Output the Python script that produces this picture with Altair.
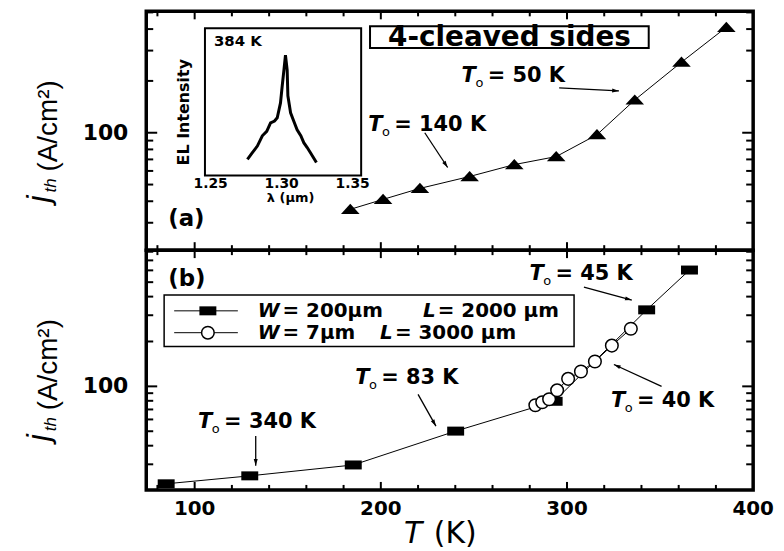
import math
import altair as alt
import pandas as pd

# ---------------- data ----------------
# (a) 4-cleaved sides, triangles
T_A = [183.6, 201.2, 221.0, 247.7, 271.7, 294.2, 316.1, 336.4, 361.5, 385.6]
J_A = [35.9, 41.0, 47.5, 55.7, 65.3, 72.7, 97.4, 155.0, 257.0, 410.0]

# inset: EL spectrum at 384 K
LAM = [1.2759, 1.2790, 1.2829, 1.2864, 1.2895, 1.2922, 1.2950, 1.2969, 1.2992,
       1.3004, 1.3016, 1.3027, 1.3039, 1.3044, 1.3063, 1.3085, 1.3109, 1.3135,
       1.3156, 1.3180, 1.3203, 1.3245]
EL = [0.110, 0.150, 0.200, 0.270, 0.300, 0.358, 0.370, 0.392, 0.493, 0.608,
      0.716, 0.818, 0.716, 0.541, 0.426, 0.370, 0.311, 0.270, 0.223, 0.190,
      0.155, 0.088]

# (b) W = 200 um, L = 2000 um (squares)
T_W200 = [84.7, 129.6, 185.2, 240.2, 293.1, 342.8, 365.8]
J_W200 = [22.2, 25.1, 29.7, 50.1, 79.4, 326.0, 603.0]
# (b) W = 7 um, L = 3000 um (open circles)
T_W7 = [283.0, 286.7, 290.4, 294.7, 300.6, 307.5, 315.0, 324.1, 334.3]
J_W7 = [74.7, 78.2, 81.9, 94.1, 112.3, 125.9, 146.8, 187.7, 243.6]

X_LABELS = [100, 200, 300, 400]
X_MAJOR = [100, 200, 300]
X_MINOR = [80, 120, 140, 160, 180, 220, 240, 260, 280, 320, 340, 360, 380]
YA_MINOR = [30, 40, 50, 60, 70, 80, 90, 200, 300, 400, 500]
YB_MINOR = [30, 40, 50, 60, 70, 80, 90, 200, 300, 400, 500, 600, 700, 800]
Y_MAJOR = [100]
INSET_LABELS = [1.25, 1.30, 1.35]

# ---------------- layout ----------------
W, HA, HB = 610, 240, 241
LEFT, RIGHT, TOP, BOTTOM = 145, 29, 8, 62
X_DOM = [74, 400]
YA_DOM = [20.8, 507]
YB_DOM = [20.2, 820]
IN_X_DOM = [1.246, 1.356]
IN_X_RANGE = [59, 216]
IN_Y_DOM = [0, 1]
IN_Y_RANGE = [165, 17]

FB = "DejaVu Sans"
FT = "Liberation Sans"

XS = alt.Scale(domain=X_DOM, nice=False, zero=False)
YSA = alt.Scale(type="log", domain=YA_DOM, nice=False)
YSB = alt.Scale(type="log", domain=YB_DOM, nice=False)
IXS = alt.Scale(domain=IN_X_DOM, range=IN_X_RANGE, nice=False, zero=False)
IYS = alt.Scale(domain=IN_Y_DOM, range=IN_Y_RANGE, nice=False, zero=False)

SQ = "M-1,-0.53L1,-0.53L1,0.53L-1,0.53Z"
TRI = "M0,-0.6L1,0.5L-1,0.5Z"
HEAD = "M0,0L0.5,1.7L-0.5,1.7Z"

DUMMY = pd.DataFrame({"a": [0]})


def px_x(t):
    return (t - X_DOM[0]) / (X_DOM[1] - X_DOM[0]) * W


def px_y(j, dom, h):
    l0, l1 = math.log10(dom[0]), math.log10(dom[1])
    return h * (1 - (math.log10(j) - l0) / (l1 - l0))


def enc_xy(ysc):
    return dict(x=alt.X("T:Q", scale=XS, axis=None),
                y=alt.Y("j:Q", scale=ysc, axis=None))


def ticks(h, ysc, ymin):
    out = []
    for vals, ln in ((X_MAJOR, 8), (X_MINOR, 5)):
        df = pd.DataFrame({"T": vals})
        base = alt.Chart(df).mark_rule(color="black", strokeWidth=2)
        out.append(base.encode(x=alt.X("T:Q", scale=XS, axis=None),
                               y=alt.value(0), y2=alt.value(ln)))
        out.append(base.encode(x=alt.X("T:Q", scale=XS, axis=None),
                               y=alt.value(h), y2=alt.value(h - ln)))
    for vals, ln in ((Y_MAJOR, 11), (ymin, 7)):
        df = pd.DataFrame({"j": vals})
        base = alt.Chart(df).mark_rule(color="black", strokeWidth=2)
        out.append(base.encode(y=alt.Y("j:Q", scale=ysc, axis=None),
                               x=alt.value(0), x2=alt.value(ln)))
        out.append(base.encode(y=alt.Y("j:Q", scale=ysc, axis=None),
                               x=alt.value(W), x2=alt.value(W - ln)))
    return out


def ylabels(ysc):
    df = pd.DataFrame({"j": Y_MAJOR, "lab": [str(v) for v in Y_MAJOR]})
    return alt.Chart(df).mark_text(font=FB, fontWeight="bold", fontSize=22, align="right",
                                   baseline="middle", color="black").encode(
        x=alt.value(-18), y=alt.Y("j:Q", scale=ysc, axis=None), text="lab:N")


def dtext(text, t, j, ysc, size, **kw):
    df = pd.DataFrame({"T": [t], "j": [j]})
    return alt.Chart(df).mark_text(text=text, fontSize=size, color="black", **kw).encode(**enc_xy(ysc))


def t0_label(t, j, rest, ysc, s=21):
    return [
        dtext("T", t, j, ysc, s, font=FB, fontWeight="bold", fontStyle="italic",
              align="left", baseline="middle"),
        dtext("o", t, j, ysc, round(s * 0.63), font=FB, align="left",
              baseline="middle", dx=0.66 * s, dy=0.33 * s),
        dtext(rest, t, j, ysc, s, font=FB, fontWeight="bold", align="left",
              baseline="middle", dx=1.25 * s),
    ]


def arrow(t0, j0, t1, j1, ysc, dom, h):
    dxp = px_x(t1) - px_x(t0)
    dyp = px_y(j1, dom, h) - px_y(j0, dom, h)
    ang = math.degrees(math.atan2(dxp, -dyp)) % 360
    df = pd.DataFrame({"T": [t0], "j": [j0], "T2": [t1], "j2": [j1]})
    line = alt.Chart(df).mark_rule(color="black", strokeWidth=1.3).encode(
        x=alt.X("T:Q", scale=XS, axis=None), x2="T2:Q",
        y=alt.Y("j:Q", scale=ysc, axis=None), y2="j2:Q")
    head = alt.Chart(df).mark_point(shape=HEAD, filled=True, size=64, angle=ang,
                                    color="black", opacity=1, strokeWidth=0).encode(
        x=alt.X("T2:Q", scale=XS, axis=None), y=alt.Y("j2:Q", scale=ysc, axis=None))
    return [line, head]


def vtext(text, x, y, size, **kw):
    return alt.Chart(DUMMY).mark_text(text=text, fontSize=size, color="black", **kw).encode(
        x=alt.value(x), y=alt.value(y))


def anchor(y):
    # invisible rule fixing the page extent (left / right / top / bottom)
    return alt.Chart(DUMMY).mark_rule(opacity=0, strokeWidth=1).encode(
        x=alt.value(-LEFT + 0.5), x2=alt.value(W + RIGHT - 0.5), y=alt.value(y))


def ytitle():
    kw = dict(angle=270, align="left", baseline="alphabetic", font=FT)
    return [
        vtext("j", -98, 192, 32, fontStyle="italic", **kw),
        vtext("th", -91, 182, 17, fontStyle="italic", **kw),
        vtext("(A/cm²)", -90, 161, 28, **kw),
    ]


# ---------------- panel (a) ----------------
df_a = pd.DataFrame({"T": T_A, "j": J_A})
line_a = alt.Chart(df_a).mark_line(color="black", strokeWidth=1).encode(**enc_xy(YSA))
pts_a = alt.Chart(df_a).mark_point(shape=TRI, filled=True, size=350, color="black",
                                   opacity=1, strokeWidth=0).encode(**enc_xy(YSA))

box_df = pd.DataFrame({"T": [194.2], "T2": [343.9], "j": [310.1], "j2": [415.8]})
box_a = alt.Chart(box_df).mark_rect(fill="white", stroke="black", strokeWidth=2).encode(
    x=alt.X("T:Q", scale=XS, axis=None), x2="T2:Q",
    y=alt.Y("j:Q", scale=YSA, axis=None), y2="j2:Q")
box_txt = dtext("4-cleaved sides", 269.1, 357, YSA, 28, font=FB, fontWeight="bold",
                align="center", baseline="middle")

layers_a = [anchor(-TOP)] + ticks(HA, YSA, YA_MINOR) + [ylabels(YSA), line_a, pts_a, box_a, box_txt]
layers_a += t0_label(243.4, 213.6, "= 50 K", YSA)
layers_a += t0_label(193.2, 111.2, "= 140 K", YSA)
layers_a += arrow(295.8, 182.0, 327.9, 174.9, YSA, YA_DOM, HA)
layers_a += arrow(223.6, 100.0, 235.9, 62.8, YSA, YA_DOM, HA)
layers_a.append(dtext("(a)", 85.8, 31.4, YSA, 23, font=FB, fontWeight="bold",
                      align="left", baseline="middle"))
layers_a += ytitle()
main_a = alt.layer(*layers_a)

# inset
frame_df = pd.DataFrame({"l": [IN_X_DOM[0]], "l2": [IN_X_DOM[1]],
                         "e": [IN_Y_DOM[0]], "e2": [IN_Y_DOM[1]]})
inset_frame = alt.Chart(frame_df).mark_rect(fill="white", stroke="black", strokeWidth=2).encode(
    x=alt.X("l:Q", scale=IXS, axis=None), x2="l2:Q",
    y=alt.Y("e:Q", scale=IYS, axis=None), y2="e2:Q")
spec_df = pd.DataFrame({"lam": LAM, "el": EL})
inset_line = alt.Chart(spec_df).mark_line(color="black", strokeWidth=3).encode(
    x=alt.X("lam:Q", scale=IXS, axis=None), y=alt.Y("el:Q", scale=IYS, axis=None))
ilab_df = pd.DataFrame({"lam": INSET_LABELS, "lab": ["%.2f" % v for v in INSET_LABELS]})
inset_xlabels = alt.Chart(ilab_df).mark_text(font=FB, fontWeight="bold", fontSize=14,
                                             align="center", baseline="top", color="black").encode(
    x=alt.X("lam:Q", scale=IXS, axis=None), y=alt.value(IN_Y_RANGE[0] + 2), text="lab:N")
ititle_df = pd.DataFrame({"lam": [1.3063]})
inset_xtitle = alt.Chart(ititle_df).mark_text(text="λ (μm)", font=FB, fontWeight="bold",
                                              fontSize=13, align="center", baseline="top",
                                              color="black").encode(
    x=alt.X("lam:Q", scale=IXS, axis=None), y=alt.value(IN_Y_RANGE[0] + 17))
iy_df = pd.DataFrame({"el": [0.43]})
inset_ytitle = alt.Chart(iy_df).mark_text(text="EL Intensity", font=FB, fontWeight="bold",
                                          fontSize=16, angle=270, align="center",
                                          baseline="alphabetic", color="black").encode(
    x=alt.value(43), y=alt.Y("el:Q", scale=IYS, axis=None))
lab_df = pd.DataFrame({"lam": [1.2523], "el": [0.912]})
inset_lab = alt.Chart(lab_df).mark_text(text="384 K", font=FB, fontWeight="bold", fontSize=15,
                                        align="left", baseline="middle", color="black").encode(
    x=alt.X("lam:Q", scale=IXS, axis=None), y=alt.Y("el:Q", scale=IYS, axis=None))
inset = alt.layer(inset_frame, inset_line, inset_lab, inset_xlabels, inset_xtitle, inset_ytitle)

panel_a = alt.layer(main_a, inset).resolve_scale(x="independent", y="independent").properties(
    width=W, height=HA)

# ---------------- panel (b) ----------------
df_sq = pd.DataFrame({"T": T_W200, "j": J_W200})
df_ci = pd.DataFrame({"T": T_W7, "j": J_W7})
line_sq = alt.Chart(df_sq).mark_line(color="black", strokeWidth=1).encode(**enc_xy(YSB))
pts_sq = alt.Chart(df_sq).mark_point(shape=SQ, filled=True, size=290, color="black",
                                     opacity=1, strokeWidth=0).encode(**enc_xy(YSB))
line_ci = alt.Chart(df_ci).mark_line(color="black", strokeWidth=1).encode(**enc_xy(YSB))
pts_ci = alt.Chart(df_ci).mark_point(shape="circle", filled=True, fill="white", stroke="black",
                                     strokeWidth=1.5, size=160, opacity=1).encode(**enc_xy(YSB))

xl_df = pd.DataFrame({"T": X_LABELS, "lab": [str(v) for v in X_LABELS]})
xlabels = alt.Chart(xl_df).mark_text(font=FB, fontWeight="bold", fontSize=20, align="center",
                                     baseline="top", color="black").encode(
    x=alt.X("T:Q", scale=XS, axis=None), y=alt.value(HB + 9), text="lab:N")

leg_box_df = pd.DataFrame({"T": [83.6], "T2": [303.8], "j": [184.8], "j2": [410.6]})
leg_box = alt.Chart(leg_box_df).mark_rect(fill="white", stroke="black", strokeWidth=1.5).encode(
    x=alt.X("T:Q", scale=XS, axis=None), x2="T2:Q",
    y=alt.Y("j:Q", scale=YSB, axis=None), y2="j2:Q")
LEG_J = [321.1, 229.1]
leg_line_df = pd.DataFrame({"T": [89.0, 89.0], "T2": [123.2, 123.2], "j": LEG_J})
leg_lines = alt.Chart(leg_line_df).mark_rule(color="black", strokeWidth=1).encode(
    x=alt.X("T:Q", scale=XS, axis=None), x2="T2:Q", y=alt.Y("j:Q", scale=YSB, axis=None))
leg_sq = alt.Chart(pd.DataFrame({"T": [107.1], "j": [LEG_J[0]]})).mark_point(
    shape=SQ, filled=True, size=290, color="black", opacity=1, strokeWidth=0).encode(**enc_xy(YSB))
leg_ci = alt.Chart(pd.DataFrame({"T": [107.1], "j": [LEG_J[1]]})).mark_point(
    shape="circle", filled=True, fill="white", stroke="black", strokeWidth=1.5, size=160,
    opacity=1).encode(**enc_xy(YSB))
lt = dict(font=FB, fontWeight="bold", align="left", baseline="middle")
leg_txt = [
    dtext("W", 133.9, LEG_J[0], YSB, 20, fontStyle="italic", **lt),
    dtext("= 200μm", 147.2, LEG_J[0], YSB, 20, **lt),
    dtext("L", 222.6, LEG_J[0], YSB, 20, fontStyle="italic", **lt),
    dtext("= 2000 μm", 230.6, LEG_J[0], YSB, 20, **lt),
    dtext("W", 133.9, LEG_J[1], YSB, 20, fontStyle="italic", **lt),
    dtext("= 7μm", 147.2, LEG_J[1], YSB, 20, **lt),
    dtext("L", 199.6, LEG_J[1], YSB, 20, fontStyle="italic", **lt),
    dtext("= 3000 μm", 207.6, LEG_J[1], YSB, 20, **lt),
]

layers_b = [anchor(HB + BOTTOM)] + ticks(HB, YSB, YB_MINOR) + [ylabels(YSB), xlabels]
layers_b += [leg_box, leg_lines, leg_sq, leg_ci] + leg_txt
layers_b += [line_sq, line_ci, pts_sq, pts_ci]
layers_b += t0_label(101.8, 57.5, "= 340 K", YSB)
layers_b += t0_label(186.2, 113.1, "= 83 K", YSB)
layers_b += t0_label(279.8, 565.0, "= 45 K", YSB)
layers_b += t0_label(323.6, 79.4, "= 40 K", YSB)
layers_b += arrow(132.8, 46.4, 132.8, 29.3, YSB, YB_DOM, HB)
layers_b += arrow(220.0, 88.4, 229.6, 54.1, YSB, YB_DOM, HB)
layers_b += arrow(309.1, 464.0, 334.8, 379.0, YSB, YB_DOM, HB)
layers_b += arrow(350.8, 100.0, 325.2, 140.2, YSB, YB_DOM, HB)
layers_b.append(dtext("(b)", 85.8, 524.8, YSB, 23, font=FB, fontWeight="bold",
                      align="left", baseline="middle"))
layers_b += ytitle()
layers_b.append(vtext("T", 259, 294, 30, font=FB, fontStyle="italic", align="left",
                      baseline="alphabetic"))
layers_b.append(vtext("(K)", 289, 294, 30, font=FB, align="left", baseline="alphabetic"))

panel_b = alt.layer(*layers_b).properties(width=W, height=HB)

chart = alt.vconcat(panel_a, panel_b, spacing=0, bounds="flush").configure_view(
    stroke="black", strokeWidth=3.5).properties(padding=0, background="white")

chart.save("out.html", embed_options={"renderer": "svg", "actions": False})
